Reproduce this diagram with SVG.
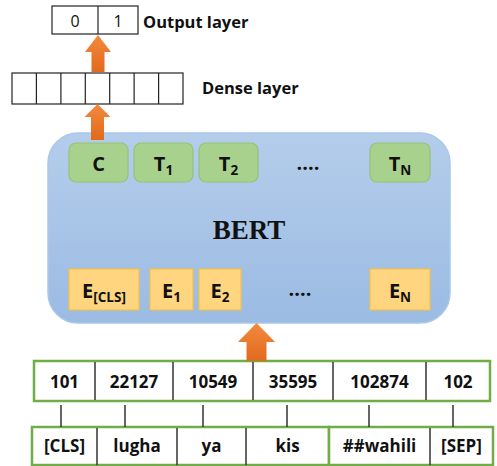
<svg xmlns="http://www.w3.org/2000/svg" width="497" height="466" viewBox="0 0 497 466">
<defs>
<linearGradient id="bertG" x1="0" y1="0" x2="0" y2="1">
<stop offset="0" stop-color="#b5cdeb"/>
<stop offset="1" stop-color="#9bbbe3"/>
</linearGradient>
<linearGradient id="orG" x1="0" y1="0" x2="0" y2="1">
<stop offset="0" stop-color="#f28a3e"/>
<stop offset="1" stop-color="#e2691c"/>
</linearGradient>
<style>
text{font-family:"Open Sans","Liberation Sans",sans-serif;fill:#111;}
.b{font-weight:bold;}
.serif{font-family:"Liberation Serif","Times New Roman",serif;font-weight:bold;font-size:27px;text-anchor:middle;}
.box{fill:#fff;stroke:#222;stroke-width:1.2;}
.div{stroke:#222;stroke-width:1.2;}
.grn{fill:#a9d18e;stroke:#93c376;stroke-width:1.2;}
.yel{fill:#ffd67f;stroke:#f3c048;stroke-width:1.2;}
.gbox{fill:#fff;stroke:#70ad47;stroke-width:2.5;}
.tdiv{stroke:#333;stroke-width:1.5;}
.arr{fill:url(#orG);}
.lbl{font-size:20px;font-weight:bold;text-anchor:middle;}
.sub{font-size:13.5px;}
.tok{font-size:17px;font-weight:bold;text-anchor:middle;}
</style>
</defs>

<g id="output-layer">
<rect class="box" x="52" y="6" width="86" height="28"/>
<line class="div" x1="98" y1="6" x2="98" y2="34"/>
<text x="75" y="27" font-size="16" text-anchor="middle">0</text>
<text x="118" y="27" font-size="16" text-anchor="middle">1</text>
<text class="b" x="143" y="28" font-size="16.5">Output layer</text>
</g>

<g id="dense-layer">
<rect class="box" x="12" y="73" width="171" height="31"/>
<line class="div" x1="36.4" y1="73" x2="36.4" y2="104"/>
<line class="div" x1="60.9" y1="73" x2="60.9" y2="104"/>
<line class="div" x1="85.3" y1="73" x2="85.3" y2="104"/>
<line class="div" x1="109.7" y1="73" x2="109.7" y2="104"/>
<line class="div" x1="134.1" y1="73" x2="134.1" y2="104"/>
<line class="div" x1="158.6" y1="73" x2="158.6" y2="104"/>
<text class="b" x="202" y="94" font-size="16.5">Dense layer</text>
</g>

<g id="bert">
<rect x="48" y="133" width="402" height="190" rx="30" fill="url(#bertG)" stroke="#a9c7ec" stroke-width="1.5"/>
<text class="serif" x="249" y="239">BERT</text>
</g>

<g id="out-C"><rect class="grn" x="69" y="143" width="59" height="39" rx="7"/><text class="lbl" x="98.5" y="171">C</text></g>
<g id="out-T1"><rect class="grn" x="134" y="143" width="59" height="39" rx="7"/><text class="lbl" x="163.5" y="171">T<tspan class="sub" dy="4">1</tspan></text></g>
<g id="out-T2"><rect class="grn" x="199" y="143" width="59" height="39" rx="7"/><text class="lbl" x="228.5" y="171">T<tspan class="sub" dy="4">2</tspan></text></g>
<g id="out-dots"><text class="lbl" x="308" y="170">....</text></g>
<g id="out-TN"><rect class="grn" x="370" y="143" width="60" height="39" rx="7"/><text class="lbl" x="400" y="171">T<tspan class="sub" dy="4">N</tspan></text></g>

<g id="emb-CLS"><rect class="yel" x="69" y="269" width="70" height="41"/><text class="lbl" x="104" y="298">E<tspan class="sub" dy="4">[CLS]</tspan></text></g>
<g id="emb-E1"><rect class="yel" x="150" y="269" width="43" height="41"/><text class="lbl" x="171.5" y="298">E<tspan class="sub" dy="4">1</tspan></text></g>
<g id="emb-E2"><rect class="yel" x="199" y="269" width="42" height="41"/><text class="lbl" x="220" y="298">E<tspan class="sub" dy="4">2</tspan></text></g>
<g id="emb-dots"><text class="lbl" x="300" y="296">....</text></g>
<g id="emb-EN"><rect class="yel" x="370" y="269" width="60" height="41"/><text class="lbl" x="400" y="298">E<tspan class="sub" dy="4">N</tspan></text></g>

<g id="token-ids">
<rect class="gbox" x="34" y="361" width="456" height="40"/>
<line class="tdiv" x1="95" y1="362" x2="95" y2="400"/>
<line class="tdiv" x1="173" y1="362" x2="173" y2="400"/>
<line class="tdiv" x1="253" y1="362" x2="253" y2="400"/>
<line class="tdiv" x1="333" y1="362" x2="333" y2="400"/>
<line class="tdiv" x1="426" y1="362" x2="426" y2="400"/>
<text class="tok" x="64.5" y="388">101</text>
<text class="tok" x="134" y="388">22127</text>
<text class="tok" x="213" y="388">10549</text>
<text class="tok" x="293" y="388">35595</text>
<text class="tok" x="379.5" y="388">102874</text>
<text class="tok" x="458" y="388">102</text>
</g>

<g id="tokens">
<rect class="gbox" x="32" y="427" width="297" height="38"/>
<rect class="gbox" x="329" y="427" width="164" height="38"/>
<line class="tdiv" x1="97" y1="428" x2="97" y2="465"/>
<line class="tdiv" x1="177" y1="428" x2="177" y2="465"/>
<line class="tdiv" x1="246" y1="428" x2="246" y2="465"/>
<line class="tdiv" x1="430" y1="428" x2="430" y2="465"/>
<text class="tok" x="64.5" y="452">[CLS]</text>
<text class="tok" x="137" y="452">lugha</text>
<text class="tok" x="211.5" y="452">ya</text>
<text class="tok" x="287.5" y="452">kis</text>
<text class="tok" x="379.5" y="452">##wahili</text>
<text class="tok" x="461.5" y="452">[SEP]</text>
</g>

<g id="connectors">
<polygon class="arr" points="98,35 111,52 104.5,52 104.5,72 91.5,72 91.5,52 85,52"/>
<polygon class="arr" points="97.5,104 110.5,117 104,117 104,140 91,140 91,117 84.5,117"/>
<polygon class="arr" points="256.5,323 275,342 266.5,342 266.5,361 246.5,361 246.5,342 238,342"/>
<g stroke="#333" stroke-width="1.5">
<line x1="61" y1="405" x2="61" y2="427"/>
<line x1="125" y1="405" x2="125" y2="427"/>
<line x1="203" y1="405" x2="203" y2="427"/>
<line x1="287" y1="405" x2="287" y2="427"/>
<line x1="369" y1="405" x2="369" y2="427"/>
<line x1="453" y1="405" x2="453" y2="427"/>
</g>
</g>
</svg>
